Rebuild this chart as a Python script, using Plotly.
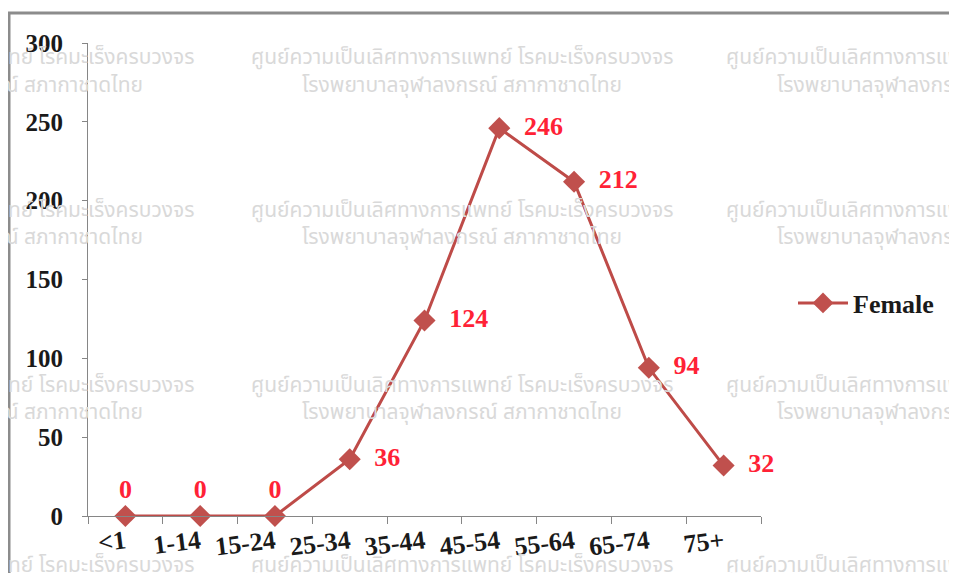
import plotly.graph_objects as go

categories = ["<1", "1-14", "15-24", "25-34", "35-44", "45-54", "55-64", "65-74", "75+"]
female = [0, 0, 0, 36, 124, 246, 212, 94, 32]
label_pos = ["top center"] * 3 + ["middle right"] * 6
y_ticks = [0, 50, 100, 150, 200, 250, 300]

wm_line1 = "ศูนย์ความเป็นเลิศทางการแพทย์ โรคมะเร็งครบวงจร"
wm_line2 = "โรงพยาบาลจุฬาลงกรณ์ สภากาชาดไทย"

# page body has an 8px margin; work in window pixels and convert
OFF = 8
W, H = 957 - 2 * OFF, 581 - 2 * OFF
L, T = 88 - OFF, 43 - OFF
R = W - (761 - OFF)
B = H - (516 - OFF)
pw, ph = W - L - R, H - T - B

def px_x(x):
    return (x - OFF - L) / pw

def px_y(y):
    return (H - B - (y - OFF)) / ph

fig = go.Figure()
fig.add_trace(go.Scatter(
    x=categories, y=female, mode="lines+markers+text", name="Female",
    line=dict(color="#BE4B48", width=3),
    marker=dict(symbol="diamond", size=17, color="#C0504D"),
    text=["\u2002" + str(v) if p == "middle right" else str(v) for v, p in zip(female, label_pos)],
    textposition=label_pos,
    textfont=dict(family="Liberation Serif", size=26, color="#FF2236", weight="bold"),
    cliponaxis=False,
))

wm_font = dict(family="Noto Sans Thai, Noto Sans, sans-serif", size=21, color="#D9D9D9")
for cx in [-17, 462, 937]:
    for y1, y2 in [(57, 85), (210, 237), (385, 412), (565, 592)]:
        fig.add_annotation(x=px_x(cx), y=px_y(y1), xref="paper", yref="paper", text=wm_line1,
                           showarrow=False, font=wm_font, xanchor="center", yanchor="middle")
        fig.add_annotation(x=px_x(cx), y=px_y(y2), xref="paper", yref="paper", text=wm_line2,
                           showarrow=False, font=wm_font, xanchor="center", yanchor="middle")

fig.add_shape(type="rect", xref="paper", yref="paper", layer="above",
              x0=px_x(9), x1=px_x(1200), y0=px_y(800), y1=px_y(13),
              line=dict(color="#8C8C8C", width=3))

tick_font = dict(family="Liberation Serif", size=26, color="#1A1A1A", weight="bold")
fig.update_layout(
    width=W, height=H,
    margin=dict(l=L, r=R, t=T, b=B, autoexpand=False),
    paper_bgcolor="white", plot_bgcolor="white",
    showlegend=True,
    legend=dict(x=px_x(793), y=px_y(303), xanchor="left", yanchor="middle", itemwidth=50,
                font=dict(family="Liberation Serif", size=26, color="#1A1A1A", weight="bold"),
                bgcolor="rgba(0,0,0,0)"),
    xaxis=dict(type="category", range=[-0.5, 8.5], tickson="boundaries",
               showline=True, linecolor="#868686", linewidth=1,
               ticks="outside", ticklen=7, tickcolor="#868686",
               showgrid=False, zeroline=False, tickangle=-7,
               tickfont=tick_font),
    yaxis=dict(range=[0, 300], tickvals=y_ticks, showline=True, linecolor="#868686", linewidth=1,
               ticks="outside", ticklen=5, tickcolor="#868686", showgrid=False, zeroline=False,
               ticklabelstandoff=14,
               tickfont=dict(family="Liberation Serif", size=25, color="#1A1A1A", weight="bold")),
)

fig.write_html("out.html")
